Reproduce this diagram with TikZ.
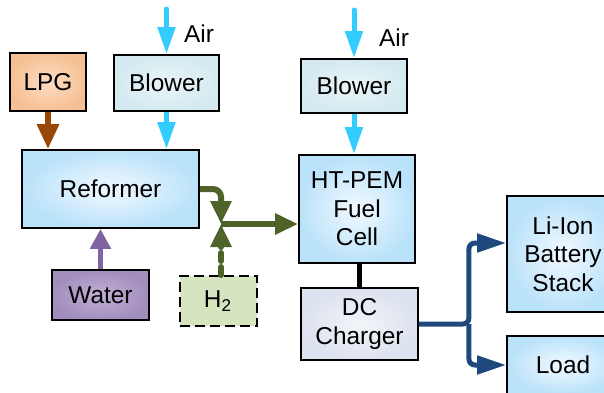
\documentclass[tikz,border=0pt]{standalone}
\usepackage{fontspec}
\setmainfont{Liberation Sans}
\usetikzlibrary{positioning, arrows.meta, calc}
\definecolor{airblue}{RGB}{51,204,255}
\definecolor{gasbrown}{RGB}{152,72,6}
\definecolor{watpurple}{RGB}{128,100,162}
\definecolor{hgreen}{RGB}{79,98,40}
\definecolor{elblue}{RGB}{31,73,125}
\tikzset{
  fblk/.style={draw, line width=0.9pt, align=center, inner sep=2pt,
               font=\fontsize{12.2}{14.2}\selectfont},
  fgas/.style={fblk, inner color={rgb,255:red,252;green,222;blue,196}, outer color={rgb,255:red,246;green,192;blue,148}},
  fblow/.style={fblk, inner color={rgb,255:red,234;green,245;blue,248}, outer color={rgb,255:red,212;green,234;blue,240}},
  fcell/.style={fblk, inner color={rgb,255:red,242;green,249;blue,255}, outer color={rgb,255:red,186;green,226;blue,250}},
  fwat/.style={fblk, inner color={rgb,255:red,192;green,176;blue,212}, outer color={rgb,255:red,162;green,142;blue,190}},
  fhyd/.style={fblk, fill={rgb,255:red,215;green,228;blue,192}, line width=1pt, dash pattern=on 5pt off 2.5pt},
  fdc/.style={fblk, inner color={rgb,255:red,242;green,244;blue,249}, outer color={rgb,255:red,220;green,226;blue,238}},
  flbl/.style={font=\fontsize{12.2}{14.2}\selectfont},
  aair/.style={-{Triangle[length=13.5pt, width=8.5pt]}, line width=2.5pt, airblue, line cap=round},
  agas/.style={-{Triangle[length=12.5pt, width=10.5pt]}, line width=3pt, gasbrown},
  awat/.style={-{Triangle[length=10pt, width=10pt]}, line width=2.5pt, watpurple},
  ahyd/.style={-{Triangle[length=11.5pt, width=10pt]}, line width=3pt, hgreen},
  aelc/.style={-{Triangle[length=14.5pt, width=9pt]}, line width=2.5pt, elblue, rounded corners=3pt},
}
\begin{document}
\begin{tikzpicture}[x=0.5pt, y=-0.5pt]
  \useasboundingbox (0,0) rectangle (604,392);
  % fuel side
  \node[fgas, minimum width=38pt, minimum height=29pt] (lpg) at (48,82) {LPG};
  \node[fblow, minimum width=52.5pt, minimum height=28pt] (blowerA) at (166.5,83) {Blower};
  \node[fcell, minimum width=88.5pt, minimum height=39pt] (reformer) at (110.5,189) {Reformer};
  \node[fwat, minimum width=48.5pt, minimum height=25pt] (water) at (100.5,295) {Water};
  \node[fhyd, minimum width=38.5pt, minimum height=25pt] (h2) at (218,301) {H\textsubscript{2}};
  % cell side
  \node[fblow, minimum width=53pt, minimum height=27pt] (blowerB) at (354,86) {Blower};
  \node[fcell, minimum width=58pt, minimum height=54pt] (fc) at (357,209) {HT-PEM\\Fuel\\Cell};
  \node[fdc, minimum width=58.5pt, minimum height=36pt] (dc) at (359.5,324) {DC\\Charger};
  \node[fcell, minimum width=56pt, minimum height=58pt] (battery) at (563,254) {Li-Ion\\Battery\\Stack};
  \node[fcell, minimum width=56pt, minimum height=29pt] (load) at (563,365) {Load};
  \node[flbl] (airlblA) at (199,34) {Air};
  \node[flbl] (airlblB) at (394,38) {Air};
  \coordinate (airA) at (166.5,9);
  \coordinate (airB) at (354,10);
  \coordinate (mix) at (221,224);
  \coordinate (split) at ($(dc.east)+(50,0)$);
  % flows
  \draw[aair] (airA) -- (blowerA.north);
  \draw[aair] (airB) -- (blowerB.north);
  \draw[aair, line cap=butt] (blowerA.south) -- (blowerA.south |- reformer.north);
  \draw[aair, line cap=butt] (blowerB.south) -- (fc.north -| blowerB.south);
  \draw[agas] (lpg.south) -- (lpg.south |- reformer.north);
  \draw[awat] (water.north) -- (water.north |- reformer.south);
  \draw[ahyd, rounded corners=4pt] (reformer.east) -| (mix);
  \draw[ahyd, dash pattern=on 4pt off 3pt, line cap=round] (mix |- h2.north) -- (mix);
  \draw[ahyd] (mix) -- (mix -| fc.west);
  \draw[line width=2.5pt] (dc.north) -- (dc.north |- fc.south);
  \draw[aelc] (dc.east) -- (split) |- ([yshift=5.5pt]battery.west);
  \draw[aelc] (split) |- (load.west);
\end{tikzpicture}
\end{document}
